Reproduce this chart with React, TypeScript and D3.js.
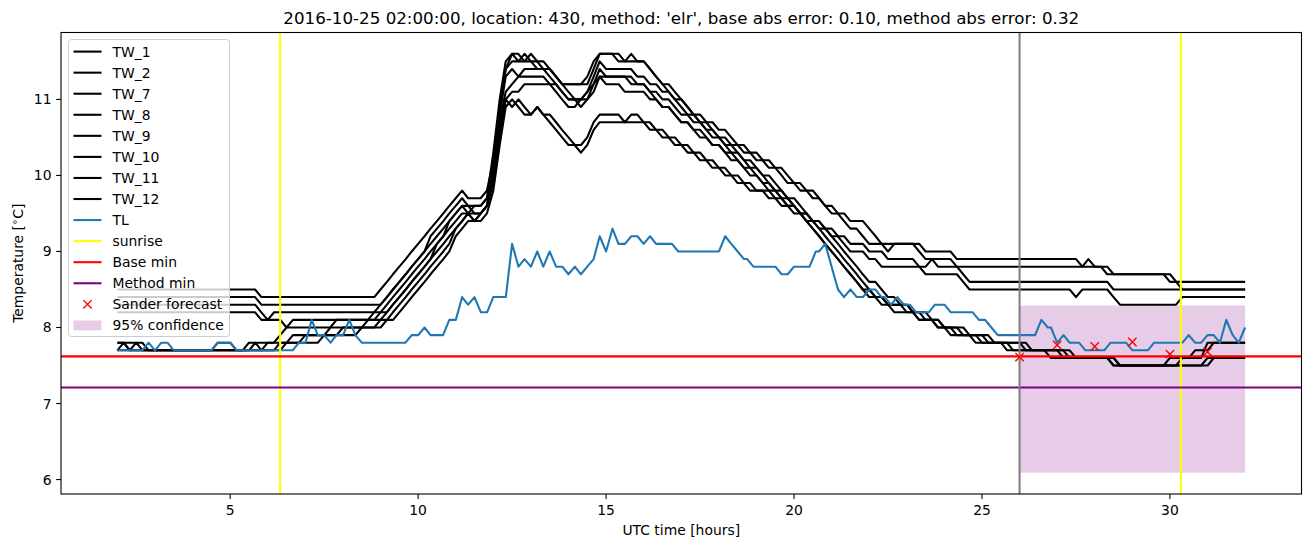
import React from 'react';
import * as d3 from 'd3';

// ---------------- DATA ----------------
const TITLE = "2016-10-25 02:00:00, location: 430, method: 'elr', base abs error: 0.10, method abs error: 0.32";
const X_TICKS = [5, 10, 15, 20, 25, 30];
const Y_TICKS = [6, 7, 8, 9, 10, 11];
const X_DOMAIN = [0.5, 33.5];
const Y_DOMAIN = [5.81, 11.88];
const SAMPLE_STEP = 1 / 6; // 10-minute samples
const END_T = 32;

// each series: [start time (h), value held from that sample]
const TW_1 = [[2,8.5],[5.83,8.4],[9.0,8.5],[9.17,8.6],[9.33,8.7],[9.5,8.8],[9.67,8.9],[9.83,9.0],[10.0,9.1],[10.17,9.2],[10.33,9.3],[10.5,9.4],[10.67,9.5],[10.83,9.6],[11.0,9.7],[11.17,9.8],[11.33,9.7],[11.83,9.8],[12.0,10.2],[12.17,10.9],[12.33,11.4],[12.5,11.5],[13.17,11.4],[13.67,11.3],[13.83,11.2],[14.0,11.1],[14.17,11.0],[14.5,11.1],[14.67,11.3],[14.83,11.5],[15.0,11.4],[15.83,11.3],[16.17,11.2],[16.5,11.1],[16.83,11.0],[17.17,10.9],[17.33,10.8],[17.67,10.7],[18.0,10.6],[18.33,10.5],[18.5,10.4],[18.83,10.3],[19.17,10.2],[19.5,10.1],[19.83,10.0],[20.0,9.9],[20.33,9.8],[20.67,9.7],[20.83,9.6],[21.17,9.5],[21.5,9.4],[22.0,9.3],[22.17,9.2],[22.33,9.1],[23.5,9.0],[24.33,8.9],[27.67,8.8],[27.83,8.9],[28.0,8.8],[28.5,8.7],[30.17,8.6]];
const TW_2 = [[2,8.4],[5.83,8.3],[9.17,8.4],[9.33,8.5],[9.5,8.6],[9.67,8.7],[9.83,8.8],[10.0,8.9],[10.17,9.0],[10.33,9.1],[10.5,9.2],[10.67,9.3],[10.83,9.4],[11.0,9.5],[11.17,9.6],[11.33,9.5],[11.5,9.6],[11.83,9.7],[12.0,10.0],[12.17,10.7],[12.33,11.1],[12.5,11.2],[12.67,11.3],[13.5,11.2],[13.83,11.1],[14.0,11.0],[14.33,10.9],[14.5,11.0],[14.67,11.2],[14.83,11.3],[15.67,11.2],[16.17,11.1],[16.5,11.0],[16.83,10.9],[17.0,10.8],[17.33,10.7],[17.67,10.6],[18.0,10.5],[18.33,10.4],[18.67,10.3],[19.0,10.2],[19.33,10.1],[19.67,10.0],[19.83,9.9],[20.17,9.8],[20.5,9.7],[20.83,9.6],[21.0,9.5],[21.33,9.4],[21.5,9.3],[21.83,9.2],[22.0,9.1],[22.5,9.0],[22.67,9.1],[23.33,9.0],[23.5,8.9],[24.33,8.8],[28.33,8.7],[30.0,8.6],[30.33,8.5]];
const TW_7 = [[2,8.3],[5.83,8.2],[6.0,8.1],[6.17,8.2],[9.33,8.3],[9.5,8.4],[9.67,8.5],[9.83,8.6],[10.0,8.7],[10.17,8.8],[10.33,8.9],[10.5,9.0],[10.67,9.1],[10.83,9.2],[11.0,9.3],[11.17,9.4],[11.33,9.5],[11.5,9.4],[11.67,9.5],[11.83,9.6],[12.0,9.9],[12.17,10.6],[12.33,11.0],[12.5,10.9],[12.67,11.0],[12.83,10.9],[13.0,10.8],[13.17,10.9],[13.33,10.8],[13.67,10.7],[13.83,10.6],[14.0,10.5],[14.17,10.4],[14.5,10.5],[14.67,10.7],[14.83,10.8],[15.5,10.7],[15.67,10.8],[16.0,10.7],[16.33,10.6],[16.67,10.5],[17.0,10.4],[17.33,10.3],[17.67,10.2],[18.0,10.1],[18.33,10.0],[18.67,9.9],[19.0,9.8],[19.5,9.7],[19.83,9.6],[20.17,9.5],[20.5,9.4],[20.83,9.3],[21.17,9.2],[21.5,9.1],[22.0,9.0],[22.5,8.9],[23.33,8.8],[23.67,8.9],[23.83,8.8],[24.5,8.7],[24.67,8.6],[28.5,8.5]];
const TW_8 = [[2,8.2],[5.83,8.1],[6.5,8.0],[6.67,8.1],[9.5,8.2],[9.67,8.3],[9.83,8.4],[10.0,8.5],[10.17,8.6],[10.33,8.7],[10.5,8.8],[10.67,8.9],[10.83,9.0],[11.0,9.2],[11.17,9.3],[11.33,9.4],[11.83,9.5],[12.0,9.8],[12.17,10.4],[12.33,10.9],[12.5,11.0],[12.67,10.9],[12.83,10.8],[13.17,10.9],[13.33,10.8],[13.5,10.7],[13.67,10.6],[13.83,10.5],[14.0,10.4],[14.33,10.3],[14.5,10.4],[14.67,10.6],[14.83,10.7],[16.17,10.6],[16.5,10.5],[16.83,10.4],[17.17,10.3],[17.5,10.2],[17.83,10.1],[18.17,10.0],[18.5,9.9],[18.83,9.8],[19.33,9.7],[19.67,9.6],[20.0,9.5],[20.33,9.4],[20.67,9.3],[21.0,9.2],[21.33,9.1],[21.5,9.0],[22.0,8.9],[22.33,8.8],[23.5,8.7],[24.5,8.6],[24.67,8.5],[27.5,8.4],[27.67,8.5],[28.5,8.4],[28.67,8.3],[30.33,8.4]];
const TW_9 = [[2,7.8],[2.83,7.7],[4.67,7.8],[5.17,7.7],[5.5,7.8],[6.33,7.9],[6.5,8.0],[7.83,8.1],[8.83,8.2],[9.0,8.3],[9.17,8.4],[9.33,8.5],[9.5,8.6],[9.67,8.7],[9.83,8.8],[10.0,8.9],[10.17,9.0],[10.33,9.2],[10.5,9.3],[10.67,9.4],[10.83,9.5],[11.0,9.6],[11.17,9.7],[11.33,9.6],[11.83,9.7],[12.0,10.3],[12.17,11.0],[12.33,11.5],[12.5,11.6],[12.83,11.5],[13.0,11.6],[13.17,11.5],[13.5,11.4],[13.67,11.3],[13.83,11.2],[14.67,11.4],[14.83,11.6],[15.5,11.5],[16.17,11.4],[16.33,11.3],[16.5,11.2],[16.67,11.1],[16.83,11.0],[17.0,10.9],[17.17,10.8],[17.5,10.7],[17.67,10.6],[17.83,10.5],[18.17,10.4],[18.5,10.3],[18.67,10.2],[19.0,10.1],[19.17,10.0],[19.5,9.9],[19.67,9.8],[19.83,9.7],[20.17,9.6],[20.33,9.5],[20.5,9.4],[20.83,9.3],[21.0,9.2],[21.17,9.1],[21.33,9.0],[21.5,8.9],[21.67,8.8],[21.83,8.7],[22.0,8.6],[22.33,8.5],[22.5,8.4],[22.83,8.3],[23.17,8.2],[23.67,8.1],[24.0,8.0],[24.67,7.9],[25.33,7.8],[26.33,7.7],[27.33,7.6],[28.67,7.5],[30.33,7.6],[31.0,7.8]];
const TW_10 = [[2,7.7],[2.17,7.8],[2.33,7.7],[6.33,7.8],[6.67,7.9],[7.67,8.0],[8.67,8.1],[9.0,8.2],[9.17,8.3],[9.33,8.4],[9.5,8.5],[9.67,8.6],[9.83,8.7],[10.0,8.8],[10.17,8.9],[10.33,9.0],[10.5,9.1],[10.67,9.2],[10.83,9.4],[11.0,9.5],[11.17,9.6],[11.5,9.5],[11.83,9.6],[12.0,10.1],[12.17,10.9],[12.33,11.4],[12.5,11.6],[12.67,11.5],[12.83,11.6],[13.0,11.5],[13.33,11.4],[13.67,11.3],[13.83,11.2],[14.5,11.3],[14.67,11.5],[14.83,11.6],[15.33,11.5],[15.67,11.6],[15.83,11.5],[16.17,11.4],[16.33,11.3],[16.5,11.2],[16.83,11.1],[17.0,11.0],[17.17,10.9],[17.33,10.8],[17.5,10.7],[17.83,10.6],[18.0,10.5],[18.17,10.4],[18.33,10.3],[18.67,10.2],[18.83,10.1],[19.17,10.0],[19.33,9.9],[19.5,9.8],[19.83,9.7],[20.0,9.6],[20.17,9.5],[20.5,9.4],[20.67,9.3],[20.83,9.2],[21.0,9.1],[21.17,9.0],[21.33,8.9],[21.5,8.8],[21.67,8.7],[21.83,8.6],[22.0,8.5],[22.17,8.4],[22.5,8.3],[23.17,8.2],[23.5,8.1],[24.0,8.0],[24.5,7.9],[25.17,7.8],[26.17,7.7],[27.17,7.6],[28.5,7.5],[30.0,7.6],[30.67,7.7],[31.17,7.8]];
const TW_11 = [[2,7.8],[2.33,7.7],[2.5,7.8],[2.67,7.7],[6.5,7.8],[7.0,7.9],[8.5,8.0],[9.0,8.1],[9.17,8.2],[9.33,8.3],[9.5,8.4],[9.67,8.5],[9.83,8.6],[10.0,8.7],[10.17,8.8],[10.33,8.9],[10.5,9.1],[10.67,9.2],[10.83,9.3],[11.0,9.4],[11.17,9.5],[11.83,9.6],[12.0,10.0],[12.17,10.8],[12.33,11.3],[12.5,11.4],[12.67,11.3],[12.83,11.4],[13.5,11.3],[13.67,11.2],[13.83,11.1],[14.0,11.0],[14.5,11.1],[14.67,11.2],[14.83,11.4],[15.0,11.3],[15.83,11.2],[16.17,11.1],[16.33,11.0],[16.5,10.9],[16.83,10.8],[17.0,10.7],[17.33,10.6],[17.5,10.5],[17.83,10.4],[18.17,10.3],[18.33,10.2],[18.67,10.1],[18.83,10.0],[19.17,9.9],[19.33,9.8],[19.67,9.7],[19.83,9.6],[20.17,9.5],[20.33,9.4],[20.5,9.3],[20.67,9.2],[20.83,9.1],[21.0,9.0],[21.17,8.9],[21.33,8.8],[21.5,8.7],[21.67,8.6],[21.83,8.5],[22.17,8.4],[22.5,8.3],[23.0,8.2],[23.33,8.1],[23.83,8.0],[24.33,7.9],[25.0,7.8],[25.83,7.7],[27.5,7.6],[28.67,7.5],[31.0,7.6]];
const TW_12 = [[2,7.7],[5.67,7.8],[5.83,7.7],[6.0,7.8],[7.5,7.9],[8.0,8.0],[9.17,8.1],[9.33,8.2],[9.5,8.3],[9.67,8.4],[9.83,8.5],[10.0,8.6],[10.17,8.7],[10.33,8.8],[10.5,8.9],[10.67,9.0],[10.83,9.1],[11.0,9.3],[11.17,9.4],[11.33,9.5],[11.5,9.4],[11.67,9.5],[11.83,9.6],[12.0,9.9],[12.17,10.5],[12.33,11.0],[12.5,11.1],[12.83,11.2],[13.67,11.1],[13.83,11.0],[14.0,10.9],[14.33,11.0],[14.67,11.1],[14.83,11.3],[15.0,11.2],[15.5,11.1],[16.17,11.0],[16.5,10.9],[16.83,10.8],[17.0,10.7],[17.33,10.6],[17.67,10.5],[17.83,10.4],[18.17,10.3],[18.5,10.2],[18.67,10.1],[19.0,10.0],[19.17,9.9],[19.5,9.8],[19.67,9.7],[20.0,9.6],[20.17,9.5],[20.33,9.4],[20.5,9.3],[20.67,9.2],[20.83,9.1],[21.0,9.0],[21.17,8.9],[21.33,8.8],[21.5,8.7],[21.67,8.6],[21.83,8.5],[22.0,8.4],[22.33,8.3],[22.67,8.2],[23.33,8.1],[23.83,8.0],[24.17,7.9],[24.83,7.8],[25.67,7.7],[26.83,7.6],[28.5,7.5],[31.17,7.6]];
const TL = [[2,7.7],[2.83,7.8],[3.0,7.7],[3.17,7.8],[3.5,7.7],[4.67,7.8],[5.17,7.7],[6.83,7.8],[7.17,8.1],[7.33,7.9],[7.67,7.8],[7.83,7.9],[8.17,8.1],[8.33,7.9],[8.5,7.8],[9.83,7.9],[10.17,8.0],[10.33,7.9],[10.83,8.1],[11.17,8.4],[11.33,8.3],[11.5,8.4],[11.67,8.2],[12.0,8.4],[12.5,9.1],[12.67,8.8],[12.83,8.9],[13.0,8.8],[13.17,9.0],[13.33,8.8],[13.5,9.0],[13.67,8.8],[14.0,8.7],[14.17,8.8],[14.33,8.7],[14.5,8.8],[14.67,8.9],[14.83,9.2],[15.0,9.0],[15.17,9.3],[15.33,9.1],[15.67,9.2],[16.0,9.1],[16.17,9.2],[16.33,9.1],[16.92,9.0],[18.17,9.2],[18.33,9.1],[18.5,9.0],[18.67,8.9],[18.92,8.8],[19.67,8.7],[20.0,8.8],[20.58,9.0],[20.83,9.1],[21.0,8.8],[21.17,8.5],[21.33,8.4],[21.5,8.5],[21.67,8.4],[22.0,8.5],[22.33,8.4],[22.58,8.3],[22.75,8.4],[22.92,8.3],[23.25,8.2],[23.75,8.3],[24.17,8.2],[24.92,8.1],[25.25,8.0],[25.42,7.9],[26.58,8.1],[26.75,8.0],[27.0,7.8],[27.17,7.9],[27.33,7.8],[27.75,7.7],[28.42,7.8],[29.0,7.7],[29.58,7.8],[30.5,7.9],[30.67,7.8],[31.0,7.9],[31.33,7.8],[31.5,8.1],[31.67,7.9],[31.83,7.8],[32.0,8.0]];

const TW_NAMES = ['TW_1', 'TW_2', 'TW_7', 'TW_8', 'TW_9', 'TW_10', 'TW_11', 'TW_12'];
const TW_SERIES = [TW_1, TW_2, TW_7, TW_8, TW_9, TW_10, TW_11, TW_12];

const SUNRISE = [6.33, 30.29];
const FORECAST_TIME = 26;
const BASE_MIN = 7.62;
const METHOD_MIN = 7.21;
const SANDER_T = [26, 27, 28, 29, 30, 31];
const SANDER_V = [7.61, 7.77, 7.75, 7.81, 7.65, 7.68];
const CONF_T = [26, 32];
const CONF_V = [6.09, 8.29];

const LEGEND_LABELS = ['TW_1', 'TW_2', 'TW_7', 'TW_8', 'TW_9', 'TW_10', 'TW_11', 'TW_12', 'TL', 'sunrise', 'Base min', 'Method min', 'Sander forecast', '95% confidence'];

// ---------------- LAYOUT ----------------
const W = 1311, H = 547;
const AX = { left: 61, right: 1301.5, top: 32.5, bottom: 494 };
const FONT = 'DejaVu Sans, sans-serif';
const FS = 13.9;
const BLUE = '#1f77b4';
const PURPLE = '#800080';

function stepsToPoints(segs: number[][]): [number, number][] {
  const pts: [number, number][] = [];
  for (let i = 0; i < segs.length; i++) {
    const [t, v] = segs[i];
    pts.push([t, v]);
    const next = i + 1 < segs.length ? segs[i + 1][0] : END_T + SAMPLE_STEP;
    const hold = next - SAMPLE_STEP;
    if (hold > t + 0.02) pts.push([hold, v]);
  }
  return pts;
}

export default function App() {
  const x = d3.scaleLinear().domain(X_DOMAIN).range([AX.left, AX.right]);
  const y = d3.scaleLinear().domain(Y_DOMAIN).range([AX.bottom, AX.top]);
  const line = d3.line<[number, number]>().x(d => x(d[0])).y(d => y(d[1]));

  const legendX = 68.5, legendY = 39.5, legendW = 161, legendH = 297;
  const rowY = (i: number) => 51.6 + i * 21.06;
  const hx0 = 73.5, hx1 = 101.5, tx = 112.5;

  const legendHandle = (i: number) => {
    const cy = rowY(i);
    if (i < 8) return <line x1={hx0} x2={hx1} y1={cy} y2={cy} stroke="black" strokeWidth={2.08} />;
    if (i === 8) return <line x1={hx0} x2={hx1} y1={cy} y2={cy} stroke={BLUE} strokeWidth={2.08} />;
    if (i === 9) return <line x1={hx0} x2={hx1} y1={cy} y2={cy} stroke="yellow" strokeWidth={2.08} />;
    if (i === 10) return <line x1={hx0} x2={hx1} y1={cy} y2={cy} stroke="red" strokeWidth={2.08} />;
    if (i === 11) return <line x1={hx0} x2={hx1} y1={cy} y2={cy} stroke={PURPLE} strokeWidth={2.08} />;
    if (i === 12) {
      const cx = (hx0 + hx1) / 2, r = 4.2;
      return <path d={`M${cx - r},${cy - r}L${cx + r},${cy + r}M${cx - r},${cy + r}L${cx + r},${cy - r}`} stroke="red" strokeWidth={1.4} />;
    }
    return <rect x={hx0} y={cy - 4.9} width={hx1 - hx0} height={9.8} fill={PURPLE} fillOpacity={0.2} />;
  };

  return (
    <svg width={W} height={H} style={{ display: 'block', position: 'absolute', left: 0, top: 0 }} fontFamily={FONT}>
      <rect x={0} y={0} width={W} height={H} fill="white" />
      <defs>
        <clipPath id="axclip">
          <rect x={AX.left} y={AX.top} width={AX.right - AX.left} height={AX.bottom - AX.top} />
        </clipPath>
      </defs>
      <g clipPath="url(#axclip)">
        <rect x={x(CONF_T[0])} y={y(CONF_V[1])} width={x(CONF_T[1]) - x(CONF_T[0])} height={y(CONF_V[0]) - y(CONF_V[1])} fill={PURPLE} fillOpacity={0.2} />
        {TW_SERIES.map((s, i) => (
          <path key={TW_NAMES[i]} d={line(stepsToPoints(s)) || ''} fill="none" stroke="black" strokeWidth={2.08} strokeLinejoin="round" />
        ))}
        <path d={line(stepsToPoints(TL)) || ''} fill="none" stroke={BLUE} strokeWidth={2.08} strokeLinejoin="round" />
        {SUNRISE.map(t => (
          <line key={t} x1={x(t)} x2={x(t)} y1={AX.top} y2={AX.bottom} stroke="yellow" strokeWidth={2.08} />
        ))}
        <line x1={AX.left} x2={AX.right} y1={y(BASE_MIN)} y2={y(BASE_MIN)} stroke="red" strokeWidth={2.08} />
        <line x1={AX.left} x2={AX.right} y1={y(METHOD_MIN)} y2={y(METHOD_MIN)} stroke={PURPLE} strokeWidth={2.08} />
        <line x1={x(FORECAST_TIME)} x2={x(FORECAST_TIME)} y1={AX.top} y2={AX.bottom} stroke="gray" strokeWidth={2.08} />
        {SANDER_T.map((t, i) => {
          const cx = x(t), cy = y(SANDER_V[i]), r = 4.2;
          return <path key={t} d={`M${cx - r},${cy - r}L${cx + r},${cy + r}M${cx - r},${cy + r}L${cx + r},${cy - r}`} stroke="red" strokeWidth={1.4} />;
        })}
      </g>
      <rect x={AX.left} y={AX.top} width={AX.right - AX.left} height={AX.bottom - AX.top} fill="none" stroke="black" strokeWidth={1.1} />
      {X_TICKS.map(t => (
        <g key={t}>
          <line x1={x(t)} x2={x(t)} y1={AX.bottom} y2={AX.bottom + 4.9} stroke="black" strokeWidth={1.1} />
          <text x={x(t)} y={515} textAnchor="middle" fontSize={FS} fill="black">{t}</text>
        </g>
      ))}
      {Y_TICKS.map(v => (
        <g key={v}>
          <line x1={AX.left - 4.9} x2={AX.left} y1={y(v)} y2={y(v)} stroke="black" strokeWidth={1.1} />
          <text x={AX.left - 9.5} y={y(v)} textAnchor="end" dominantBaseline="central" fontSize={FS} fill="black">{v}</text>
        </g>
      ))}
      <text x={(AX.left + AX.right) / 2} y={535} textAnchor="middle" fontSize={FS} fill="black">UTC time [hours]</text>
      <text transform={`translate(23,${(AX.top + AX.bottom) / 2}) rotate(-90)`} textAnchor="middle" fontSize={FS} fill="black">
        Temperature [<tspan fontSize={10} dy={-5}>∘</tspan><tspan dy={5}>C]</tspan>
      </text>
      <text x={(AX.left + AX.right) / 2} y={24} textAnchor="middle" fontSize={16.7} fill="black">{TITLE}</text>
      <rect x={legendX} y={legendY} width={legendW} height={legendH} rx={3} fill="white" fillOpacity={0.8} stroke="#cccccc" strokeWidth={1} />
      {LEGEND_LABELS.map((lab, i) => (
        <g key={lab}>
          {legendHandle(i)}
          <text x={tx} y={rowY(i)} dominantBaseline="central" fontSize={FS} fill="black">{lab}</text>
        </g>
      ))}
    </svg>
  );
}
